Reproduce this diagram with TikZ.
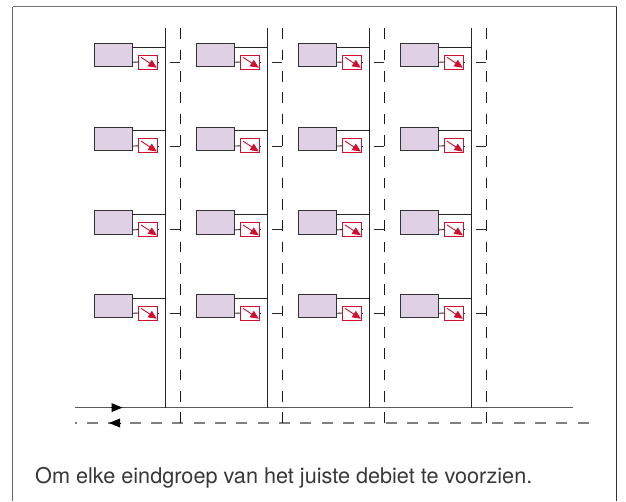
\documentclass[tikz,border=0pt]{standalone}
\usepackage{fontspec}
\setmainfont{TeX Gyre Heros}
\usetikzlibrary{arrows.meta,calc}
\definecolor{boxfill}{RGB}{224,208,228}
\definecolor{valvered}{RGB}{208,16,48}
\tikzset{
  x=1pt,y=-1pt,
  unitbox/.style={draw=black!80,fill=boxfill,line width=1pt,minimum width=38pt,minimum height=23.3pt,inner sep=0pt,outer sep=0pt,anchor=north west},
  valvebox/.style={draw=valvered,fill=white,line width=1pt,minimum width=19.4pt,minimum height=14pt,inner sep=0pt,outer sep=0pt,anchor=north west},
  pipe/.style={line width=0.9pt,black!85},
  retpipe/.style={line width=0.9pt,black!90,dash pattern=on 10.7pt off 10.63pt},
  mainpipe/.style={line width=1.2pt,black!65},
  mainret/.style={line width=1.5pt,black!50,dash pattern=on 11pt off 10.33pt},
  frameleft/.style={line width=1.3pt,black!60},
  frametop/.style={line width=0.9pt,black!55},
  frameright/.style={line width=1pt,black!80},
  flowtip/.style={-{Triangle[length=11pt,width=9pt,fill=black]},line width=0pt,draw=none},
  valvearrow/.style={valvered,line width=0.9pt,-{Triangle[length=8.5pt,width=7.5pt]}},
  caption/.style={font=\fontsize{21.65}{24}\selectfont,text=black!78,anchor=base west,inner sep=0pt}
}
\begin{document}
\begin{tikzpicture}
\useasboundingbox (0,0) rectangle (626,501);
\fill[white] (0,0) rectangle (626,501);
\coordinate (fbl) at (12.8,501);
\coordinate (ftl) at (12.8,6.7);
\coordinate (ftr) at (616.8,6.7);
\coordinate (fbr) at (616.8,501);
\draw[frameleft] (fbl) -- (ftl);
\draw[frametop] (ftl) -- (ftr);
\draw[frameright] (ftr) -- (fbr);
% mains
\coordinate (sl) at (75,407.6);
\coordinate (sr) at (573,407.6);
\coordinate (rl) at (75,423);
\coordinate (rr) at (588.6,423);
\draw[mainpipe] (sl) -- (sr);
\draw[mainret] (rr) -- (rl);
\foreach \c/\x in {1/0,2/102,3/204,4/306}{
  \coordinate (st\c) at ({165+\x},28.3);
  \coordinate (sb\c) at ({165+\x},407.6);
  \coordinate (rt\c) at ({180.4+\x},28.3);
  \coordinate (rb\c) at ({180.4+\x},423);
  \draw[pipe] (st\c) -- (sb\c);
  \draw[retpipe] (rb\c) -- (rt\c);
  \foreach \r/\y in {1/0,2/83.8,3/167.6,4/251}{
    \node[unitbox] (u\c\r) at ({94+\x},{43.3+\y}) {};
    \node[valvebox] (v\c\r) at ({138.4+\x},{55+\y}) {};
    \coordinate (ua\c\r) at ({132+\x},{47+\y});
    \coordinate (sa\c\r) at ({165+\x},{47+\y});
    \coordinate (ub\c\r) at ({132+\x},{62.3+\y});
    \coordinate (dt\c\r) at ({158.4+\x},{62.3+\y});
    \coordinate (de\c\r) at ({159.4+\x},{62.3+\y});
    \coordinate (ra\c\r) at ({170+\x},{62.3+\y});
    \coordinate (rc\c\r) at ({180.4+\x},{62.3+\y});
    \draw[pipe] (ua\c\r) -- (sa\c\r);
    \draw[pipe] (ub\c\r) -- (v\c\r.west);
    \draw[pipe] (dt\c\r) -- (de\c\r);
    \draw[pipe] (ra\c\r) -- (rc\c\r);
    \draw[valvearrow] ($(v\c\r.north west)+(2.6,2.3)$) -- ($(v\c\r.south east)+(-1,-1.3)$);
  }
}
% flow arrows
\coordinate (fa1) at (111.5,407.6);
\coordinate (fa2) at (122.5,407.6);
\coordinate (fb1) at (120.5,423);
\coordinate (fb2) at (109,423);
\path[flowtip,draw] (fa1) -- (fa2);
\path[flowtip,draw] (fb1) -- (fb2);
\node[caption] (cap) at (35,483.6) {Om elke eindgroep van het juiste debiet te voorzien.};
\end{tikzpicture}
\end{document}
